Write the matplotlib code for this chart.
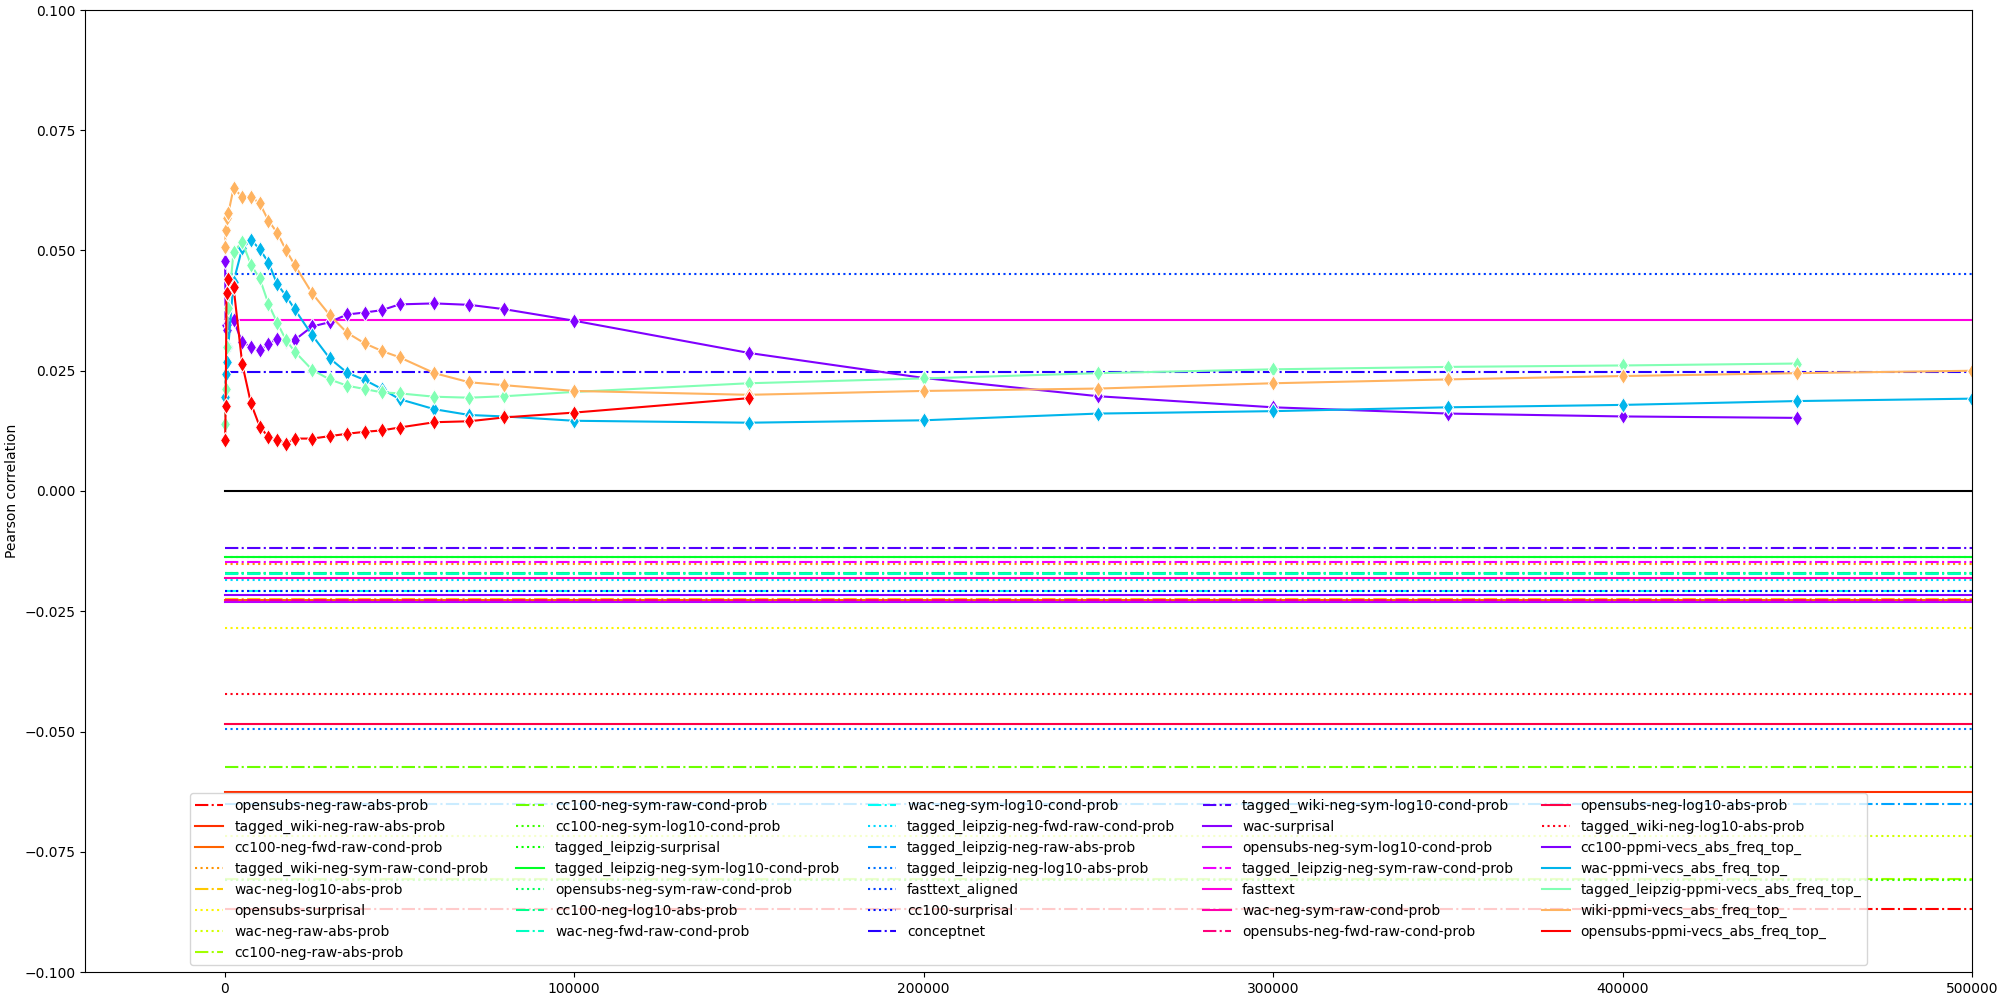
import matplotlib.pyplot as plt
import numpy as np

# baseline measures: one constant correlation each
baselineNames = ['opensubs-neg-raw-abs-prob', 'tagged_wiki-neg-raw-abs-prob', 'cc100-neg-fwd-raw-cond-prob',
                 'tagged_wiki-neg-sym-raw-cond-prob', 'wac-neg-log10-abs-prob', 'opensubs-surprisal',
                 'wac-neg-raw-abs-prob', 'cc100-neg-raw-abs-prob', 'cc100-neg-sym-raw-cond-prob',
                 'cc100-neg-sym-log10-cond-prob', 'tagged_leipzig-surprisal',
                 'tagged_leipzig-neg-sym-log10-cond-prob', 'opensubs-neg-sym-raw-cond-prob',
                 'cc100-neg-log10-abs-prob', 'wac-neg-fwd-raw-cond-prob', 'wac-neg-sym-log10-cond-prob',
                 'tagged_leipzig-neg-fwd-raw-cond-prob', 'tagged_leipzig-neg-raw-abs-prob',
                 'tagged_leipzig-neg-log10-abs-prob', 'fasttext_aligned', 'cc100-surprisal', 'conceptnet',
                 'tagged_wiki-neg-sym-log10-cond-prob', 'wac-surprisal', 'opensubs-neg-sym-log10-cond-prob',
                 'tagged_leipzig-neg-sym-raw-cond-prob', 'fasttext', 'wac-neg-sym-raw-cond-prob',
                 'opensubs-neg-fwd-raw-cond-prob', 'opensubs-neg-log10-abs-prob', 'tagged_wiki-neg-log10-abs-prob']
baselineValues = [-0.0870, -0.0626, -0.0226, -0.0152, -0.0224, -0.0284, -0.0717, -0.0807, -0.0574,
                  -0.0808, -0.0138, -0.0137, -0.0171, -0.0170, -0.0173, -0.0208, -0.0186, -0.0651,
                  -0.0494, 0.0452, -0.0208, 0.0248, -0.0119, -0.0216, -0.0230, -0.0147, 0.0355,
                  -0.0181, -0.0226, -0.0484, -0.0421]
baselineStyles = ['-.', '-', '-', ':', '-.', ':', ':', '-.', '-.', ':', ':', '-', ':', '-.', '-.', '-.',
                  ':', '-.', ':', ':', ':', '-.', '-.', '-', '-', '-.', '-', '-', '-.', '-', ':']

# ppmi vectors: correlation per vocabulary size
ppmiNames = ['cc100-ppmi-vecs_abs_freq_top_', 'wac-ppmi-vecs_abs_freq_top_',
             'tagged_leipzig-ppmi-vecs_abs_freq_top_', 'wiki-ppmi-vecs_abs_freq_top_',
             'opensubs-ppmi-vecs_abs_freq_top_']
topN = [100, 250, 500, 1000, 2500, 5000, 7500, 10000, 12500, 15000, 17500, 20000, 25000, 30000, 35000,
        40000, 45000, 50000, 60000, 70000, 80000, 100000, 150000, 200000, 250000, 300000, 350000,
        400000, 450000, 500000]
cc100Ppmi = [0.0478, 0.0345, 0.0335, 0.0350, 0.0355, 0.0309, 0.0300, 0.0293, 0.0305, 0.0317, 0.0312,
             0.0314, 0.0342, 0.0351, 0.0367, 0.0371, 0.0376, 0.0388, 0.0390, 0.0387, 0.0378, 0.0354,
             0.0287, 0.0235, 0.0197, 0.0174, 0.0161, 0.0155, 0.0152]
wacPpmi = [0.0196, 0.0243, 0.0269, 0.0300, 0.0435, 0.0505, 0.0522, 0.0503, 0.0475, 0.0430, 0.0406,
           0.0378, 0.0324, 0.0276, 0.0246, 0.0231, 0.0212, 0.0191, 0.0170, 0.0158, 0.0155, 0.0146,
           0.0142, 0.0147, 0.0161, 0.0166, 0.0174, 0.0179, 0.0187, 0.0192]
leipzigPpmi = [0.0140, 0.0213, 0.0300, 0.0380, 0.0497, 0.0518, 0.0470, 0.0442, 0.0389, 0.0350, 0.0314,
               0.0290, 0.0252, 0.0232, 0.0219, 0.0212, 0.0205, 0.0203, 0.0196, 0.0194, 0.0197, 0.0206,
               0.0224, 0.0234, 0.0245, 0.0253, 0.0258, 0.0261, 0.0265]
wikiPpmi = [0.0508, 0.0543, 0.0568, 0.0577, 0.0629, 0.0612, 0.0612, 0.0598, 0.0562, 0.0537, 0.0501,
            0.0470, 0.0411, 0.0366, 0.0329, 0.0307, 0.0291, 0.0278, 0.0245, 0.0226, 0.0220, 0.0208,
            0.0200, 0.0208, 0.0213, 0.0224, 0.0232, 0.0239, 0.0245, 0.0250]
opensubsPpmi = [0.0106, 0.0177, 0.0412, 0.0440, 0.0425, 0.0264, 0.0182, 0.0134, 0.0112, 0.0106, 0.0098,
                0.0109, 0.0109, 0.0114, 0.0119, 0.0123, 0.0126, 0.0132, 0.0143, 0.0145, 0.0153, 0.0163,
                0.0193]


def main():
    fig, ax = plt.subplots(figsize=(20, 10), dpi=100)

    # horizontal baselines, hsv colours
    baseColors = plt.cm.hsv(np.linspace(0, 1, len(baselineNames)))
    for name, val, ls, c in zip(baselineNames, baselineValues, baselineStyles, baseColors):
        ax.plot([0, topN[-1]], [val, val], linestyle=ls, color=c, linewidth=1.5, label=name)

    ax.plot([0, topN[-1]], [0, 0], color='black', linewidth=1.5)

    # ppmi curves, rainbow colours
    ppmiValues = [cc100Ppmi, wacPpmi, leipzigPpmi, wikiPpmi, opensubsPpmi]
    ppmiColors = plt.cm.rainbow(np.linspace(0, 1, len(ppmiNames)))
    for name, vals, c in zip(ppmiNames, ppmiValues, ppmiColors):
        xs = topN[:len(vals)]
        ax.plot(xs, vals, color=c, linewidth=1.5, label=name)
        ax.plot(xs, vals, linestyle='', marker='d', markersize=8, color=c,
                markeredgecolor='white', markeredgewidth=0.75)

    ax.set_xlim(-40000, 500000)
    ax.set_ylim(-0.1, 0.1)
    ax.set_ylabel('Pearson correlation')
    ax.legend(loc='lower center', ncol=5, fontsize=10)

    # margins as tight as in the original
    fig.subplots_adjust(left=0.0425, right=0.986, top=0.99, bottom=0.028)
    fig.savefig('out.png')


if __name__ == '__main__':
    main()
